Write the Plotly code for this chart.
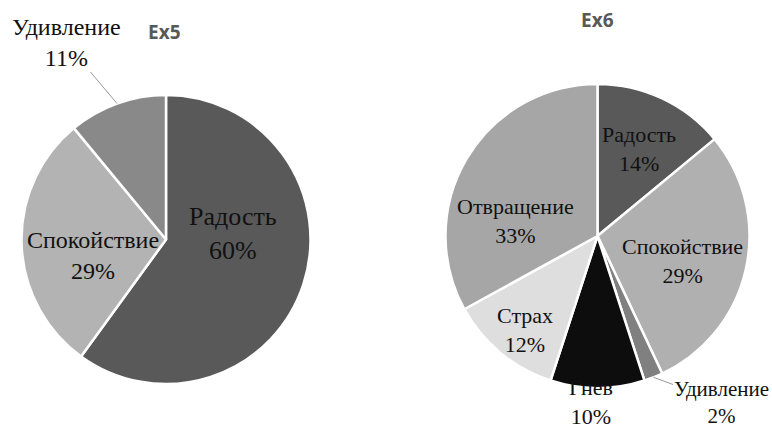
import math
import plotly.graph_objects as go

W, H = 772, 430

# ---- data ----
ex5_labels = ["Радость", "Спокойствие", "Удивление"]
ex5_values = [60, 29, 11]
ex5_colors = ["#595959", "#b3b3b3", "#898989"]

ex6_labels = ["Радость", "Спокойствие", "Удивление", "Гнев", "Страх", "Отвращение"]
ex6_values = [14, 29, 2, 10, 12, 33]
ex6_colors = ["#595959", "#b0b0b0", "#808080", "#0d0d0d", "#dedede", "#a6a6a6"]

titles = ["Ex5", "Ex6"]

# ---- layout / style (pixel positions of label blocks) ----
dom5 = dict(x=[21.5 / W, 310.5 / W], y=[1 - 384 / H, 1 - 95 / H])
dom6 = dict(x=[445.5 / W, 749.5 / W], y=[1 - 388 / H, 1 - 84 / H])

ex5_label_pos = [(233, 233), (93, 255), (66, 43)]
ex5_label_size = [26, 24, 24]
ex5_leader = [False, False, True]

ex6_label_pos = [(639, 149), (682, 261), (721, 402), (591, 402), (525, 330), (515, 221)]
ex6_label_size = [22, 22, 21, 22, 22, 22]
ex6_leader = [False, False, True, False, False, False]

title_pos = [(164, 32), (597, 20)]

SERIF = "Liberation Serif, Times New Roman, serif"


def pie_geom(dom):
    cx = (dom["x"][0] + dom["x"][1]) / 2 * W
    cy = (1 - (dom["y"][0] + dom["y"][1]) / 2) * H
    r = min((dom["x"][1] - dom["x"][0]) * W, (dom["y"][1] - dom["y"][0]) * H) / 2
    return cx, cy, r


def slice_tip(dom, values, idx, k=1.0):
    cx, cy, r = pie_geom(dom)
    total = sum(values)
    f = (sum(values[:idx]) + values[idx] / 2) / total
    th = 2 * math.pi * f
    return cx + k * r * math.sin(th), cy - k * r * math.cos(th)


fig = go.Figure()
for labels, values, colors, dom in [(ex5_labels, ex5_values, ex5_colors, dom5),
                                    (ex6_labels, ex6_values, ex6_colors, dom6)]:
    fig.add_trace(go.Pie(
        labels=labels, values=values, domain=dom,
        sort=False, direction="clockwise", rotation=0,
        marker=dict(colors=colors, line=dict(color="white", width=2.5)),
        textinfo="none", showlegend=False, hoverinfo="label+value",
    ))

annotations = []
for labels, values, dom, pos, sizes, leaders in [
        (ex5_labels, ex5_values, dom5, ex5_label_pos, ex5_label_size, ex5_leader),
        (ex6_labels, ex6_values, dom6, ex6_label_pos, ex6_label_size, ex6_leader)]:
    for i, lab in enumerate(labels):
        px, py = pos[i]
        txt = f"{lab}<br>{values[i]}%"
        font = dict(family=SERIF, size=sizes[i], color="#111111")
        if leaders[i]:
            tx, ty = slice_tip(dom, values, i, 1.0)
            annotations.append(dict(
                x=tx / W, y=1 - ty / H, xref="paper", yref="paper",
                text=txt, showarrow=True, arrowhead=0, arrowwidth=1,
                arrowcolor="#9a9a9a", ax=px - tx, ay=py - ty,
                font=font, align="center", borderpad=0))
        else:
            annotations.append(dict(
                x=px / W, y=1 - py / H, xref="paper", yref="paper",
                xanchor="center", yanchor="middle",
                text=txt, showarrow=False, font=font, align="center", borderpad=0))

for t, (px, py) in zip(titles, title_pos):
    annotations.append(dict(x=px / W, y=1 - py / H, xref="paper", yref="paper",
                            xanchor="center", yanchor="middle",
                            text=f"<b>{t}</b>", showarrow=False,
                            font=dict(family="Open Sans", size=19, color="#595959")))

fig.update_layout(
    width=W, height=H,
    margin=dict(l=0, r=0, t=0, b=0),
    paper_bgcolor="white", plot_bgcolor="white",
    annotations=annotations,
)

fig.write_html("out.html")
